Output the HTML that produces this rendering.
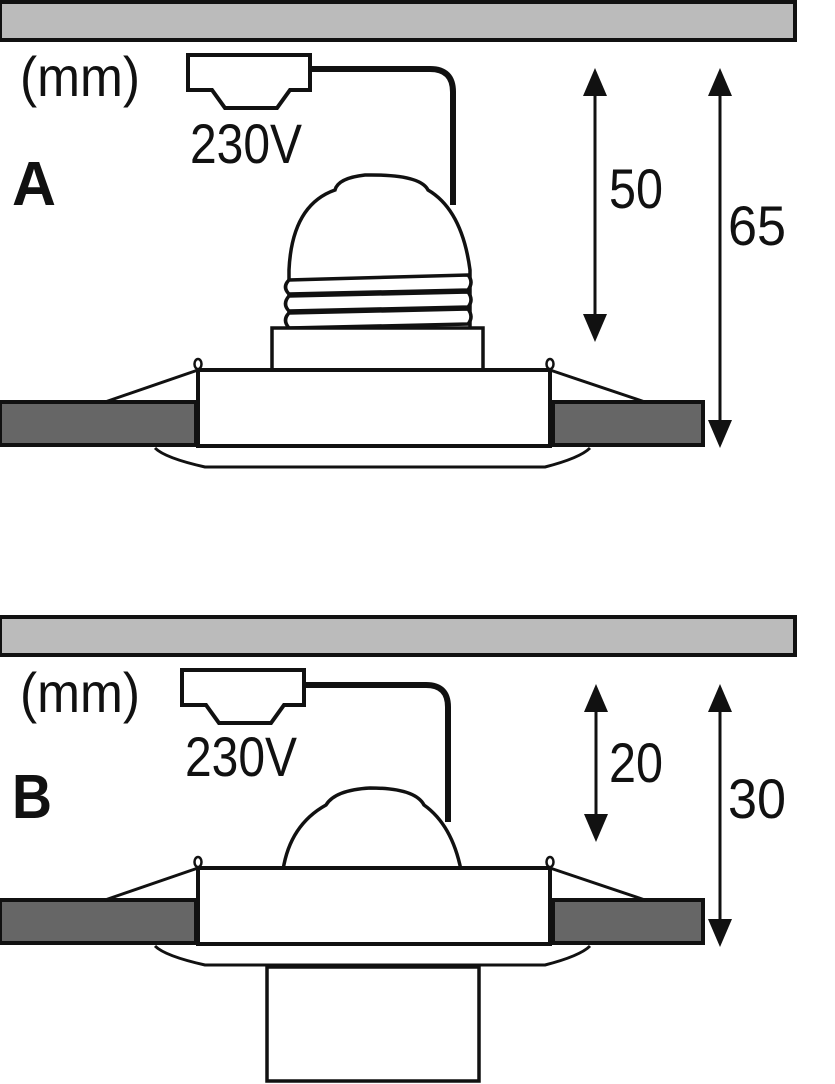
<!DOCTYPE html>
<html><head><meta charset="utf-8"><style>html,body{margin:0;padding:0;background:#fff}svg{display:block}</style></head>
<body>
<svg width="835" height="1084" viewBox="0 0 835 1084" xmlns="http://www.w3.org/2000/svg" font-family="Liberation Sans, sans-serif">
<defs>
<g id="housing">
  <rect x="0" y="402" width="196" height="43" fill="#666" stroke="#111" stroke-width="4"/>
  <rect x="553" y="402" width="150" height="43" fill="#666" stroke="#111" stroke-width="4"/>
  <path d="M155,448 Q165,458 205,467 L545,467 Q580,458 590,448" fill="#fff" stroke="#111" stroke-width="3"/>
  <rect x="198" y="370" width="352" height="76" fill="#fff" stroke="#111" stroke-width="4"/>
  <line x1="198" y1="370" x2="105" y2="402" stroke="#111" stroke-width="3"/>
  <line x1="550" y1="370" x2="645" y2="402" stroke="#111" stroke-width="3"/>
  <ellipse cx="198" cy="364" rx="3.5" ry="5" fill="#fff" stroke="#111" stroke-width="2.5"/>
  <ellipse cx="550" cy="364" rx="3.5" ry="5" fill="#fff" stroke="#111" stroke-width="2.5"/>
</g>
<g id="conn">
  <path d="M188,55 L310,55 L310,90 L290,90 L277,108 L225,108 L212,90 L188,90 Z" fill="#fff" stroke="#111" stroke-width="4"/>
</g>
</defs>

<rect x="0" y="2" width="795" height="38" fill="#bbb" stroke="#111" stroke-width="4"/>
<text x="20" y="96" font-size="56" textLength="120" lengthAdjust="spacingAndGlyphs" fill="#111">(mm)</text>
<use href="#conn"/>
<path d="M310,69 L430,69 Q453,69 453,92 L453,205" fill="none" stroke="#111" stroke-width="6"/>
<text x="190" y="163" font-size="56" textLength="112" lengthAdjust="spacingAndGlyphs" fill="#111">230V</text>
<text x="12" y="205" font-size="62" font-weight="bold" textLength="44" lengthAdjust="spacingAndGlyphs" fill="#111">A</text>
<path d="M289,330 L289,270 Q292,205 335,190 Q338,178 365,175 Q420,174 428,190 Q462,210 470,270 L470,330" fill="#fff" stroke="#111" stroke-width="3.5"/>
<g fill="none" stroke="#111" stroke-width="3.5">
  <path d="M289,280 Q282,287 289,294 L468,290 Q474,282 468,275 Z" fill="#fff"/>
  <path d="M289,296 Q282,304 289,311 L468,307 Q474,300 468,292 Z" fill="#fff"/>
  <path d="M289,313 Q282,320 289,328 L468,324 Q474,317 468,309 Z" fill="#fff"/>
</g>
<rect x="272" y="328" width="211" height="42" fill="#fff" stroke="#111" stroke-width="3.5"/>
<use href="#housing"/>
<g fill="#111" stroke="#111">
  <line x1="595" y1="90" x2="595" y2="320" stroke-width="3"/>
  <path d="M595,68 L583,96 L607,96 Z" stroke="none"/>
  <path d="M595,342 L583,314 L607,314 Z" stroke="none"/>
  <line x1="720" y1="90" x2="720" y2="425" stroke-width="3"/>
  <path d="M720,68 L708,96 L732,96 Z" stroke="none"/>
  <path d="M720,448 L708,420 L732,420 Z" stroke="none"/>
</g>
<text x="609" y="208" font-size="56" textLength="54" lengthAdjust="spacingAndGlyphs" fill="#111">50</text>
<text x="728" y="245" font-size="56" textLength="58" lengthAdjust="spacingAndGlyphs" fill="#111">65</text>

<rect x="0" y="617" width="795" height="38" fill="#bbb" stroke="#111" stroke-width="4"/>
<text x="20" y="712" font-size="56" textLength="120" lengthAdjust="spacingAndGlyphs" fill="#111">(mm)</text>
<use href="#conn" transform="translate(-6,615)"/>
<path d="M304,685 L426,685 Q448,685 448,707 L448,822" fill="none" stroke="#111" stroke-width="6"/>
<text x="185" y="776" font-size="56" textLength="112" lengthAdjust="spacingAndGlyphs" fill="#111">230V</text>
<text x="12" y="818" font-size="62" font-weight="bold" textLength="40" lengthAdjust="spacingAndGlyphs" fill="#111">B</text>
<path d="M283,870 Q290,825 326,805 Q335,790 370,788 Q415,788 424,805 Q452,825 461,870" fill="#fff" stroke="#111" stroke-width="3.5"/>
<g transform="translate(0,498)"><use href="#housing"/></g>
<rect x="267" y="967" width="212" height="114" fill="#fff" stroke="#111" stroke-width="3.5"/>
<g fill="#111" stroke="#111">
  <line x1="596" y1="705" x2="596" y2="820" stroke-width="3"/>
  <path d="M596,684 L584,712 L608,712 Z" stroke="none"/>
  <path d="M596,842 L584,814 L608,814 Z" stroke="none"/>
  <line x1="720" y1="705" x2="720" y2="925" stroke-width="3"/>
  <path d="M720,684 L708,712 L732,712 Z" stroke="none"/>
  <path d="M720,947 L708,919 L732,919 Z" stroke="none"/>
</g>
<text x="609" y="782" font-size="56" textLength="54" lengthAdjust="spacingAndGlyphs" fill="#111">20</text>
<text x="728" y="818" font-size="56" textLength="58" lengthAdjust="spacingAndGlyphs" fill="#111">30</text>
</svg>
</body></html>
